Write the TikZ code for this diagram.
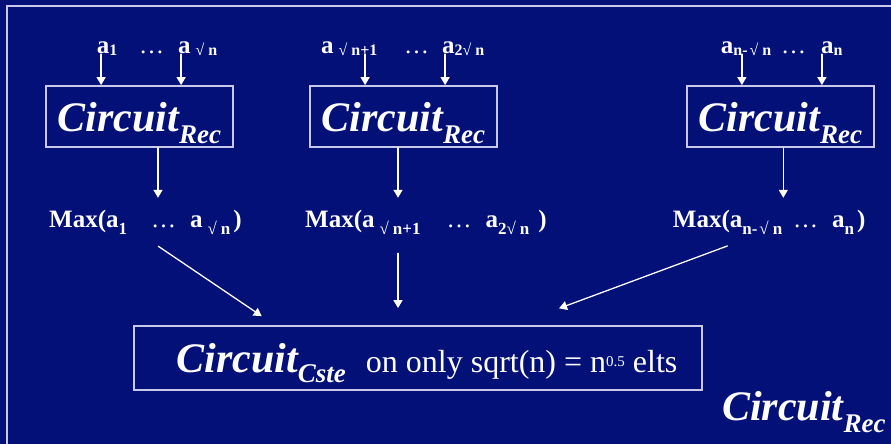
\documentclass[tikz,border=0pt]{standalone}
\usepackage{fontspec}
\setmainfont{Liberation Serif}
\usetikzlibrary{arrows.meta}
\definecolor{slideblue}{RGB}{2,16,119}
\definecolor{framecol}{RGB}{200,200,235}
\newcommand{\circname}[2][12pt]{{\fontsize{42}{42}\selectfont\bfseries\itshape Circuit\raisebox{-#1}{\fontsize{27}{27}\selectfont #2}}}
\newcommand{\insub}[1]{\raisebox{-2pt}{\fontsize{16}{16}\selectfont #1}}
\newcommand{\maxsub}[1]{\raisebox{-7pt}{\fontsize{17}{17}\selectfont #1}}
\newcommand{\rt}{√\hspace{4pt}}
\newcommand{\dts}{{\mdseries …}}

\begin{document}
\begin{tikzpicture}[x=1pt,y=-1pt,line cap=round,
  recbox/.style={draw=framecol,line width=1.8pt,text=white,inner sep=0pt,
    minimum width=187pt,minimum height=61pt,text height=36pt,text depth=6pt},
  inp/.style={text=white,inner sep=0pt,anchor=base west,
    font=\fontsize{25}{25}\selectfont\bfseries},
  maxlab/.style={text=white,inner sep=0pt,anchor=base west,text height=16pt,
    text depth=9pt,font=\fontsize{25}{25}\selectfont\bfseries},
  arr/.style={white,line width=1.3pt,-{Triangle[width=9pt,length=8pt]}}]
  \useasboundingbox (0,0) rectangle (891,444);
  \fill[slideblue] (0,0) rectangle (891,444);
  % outer box, cut by the slide edge
  \draw[framecol,line width=2pt] (6.5,444) -- (6.5,6.5) -- (891,6.5);

  \node[recbox] (rec1) at (139.5,116.5) {\circname{Rec}};
  \node[recbox] (rec2) at (403.5,116.5) {\circname{Rec}};
  \node[recbox] (rec3) at (780.3,116.5) {\circname{Rec}};

  \node[inp] (a11) at (96.7,53.5) {a\insub{1}};
  \node[inp] (d1)  at (139,53.5) {\dts};
  \node[inp] (a12) at (178,53.5) {a\insub{\hspace{5pt}\rt n}};
  \node[inp] (a21) at (321,53.5) {a\insub{\hspace{5pt}\rt n+1}};
  \node[inp] (d2)  at (404,53.5) {\dts};
  \node[inp] (a22) at (442,53.5) {a\insub{2\rt n}};
  \node[inp] (a31) at (720.7,53.5) {a\insub{n-\hspace{2pt}\rt n}};
  \node[inp] (d3)  at (781,53.5) {\dts};
  \node[inp] (a32) at (821,53.5) {a\insub{n}};

  \foreach \b in {rec1,rec2,rec3}
    \foreach \dx in {56,136}
      \draw[arr] ([xshift=\dx pt,yshift=31pt]\b.north west) -- ([xshift=\dx pt]\b.north west);

  \node[maxlab] (max1) at (49,227)
    {Max(a\maxsub{1}\hspace{24pt}\dts\hspace{14pt}a\maxsub{\hspace{5pt}\rt n}\hspace{3pt})};
  \node[maxlab] (max2) at (305,227)
    {Max(a\maxsub{\hspace{5pt}\rt n+1}\hspace{26pt}\dts\hspace{14pt}a\maxsub{2\rt n}\hspace{9pt})};
  \node[maxlab] (max3) at (672.7,227)
    {Max(a\maxsub{n-\hspace{2pt}\rt n}\hspace{11pt}\dts\hspace{14pt}a\maxsub{n}\hspace{3pt})};

  \draw[arr,shorten >=13pt] ([xshift=18.5pt]rec1.south) -- ([xshift=109pt]max1.north west);
  \draw[arr,shorten >=13pt] ([xshift=-5.5pt]rec2.south) -- ([xshift=93pt]max2.north west);
  \draw[arr,shorten >=13pt] ([xshift=3pt]rec3.south) -- ([xshift=110.6pt]max3.north west);

  \node[draw=framecol,line width=1.8pt,text=white,inner sep=0pt,
    minimum width=568pt,minimum height=64pt,text height=36pt,text depth=6.6pt]
    (cste) at (418,358)
    {\hspace*{18pt}\circname[10pt]{Cste}\hspace{20pt}{\fontsize{32}{32}\selectfont on only sqrt(n) = n\raisebox{6.5pt}{\fontsize{15}{15}\selectfont 0.5} elts}};

  \draw[arr,shorten <=18pt,shorten >=16pt] ([xshift=94.4pt]max1.south west) -- ([xshift=-143pt]cste.north);
  \draw[arr,shorten <=17pt,shorten >=17pt] ([xshift=93pt]max2.south west) -- ([xshift=-20pt]cste.north);
  \draw[arr,shorten <=28pt,shorten >=48pt] ([xshift=81pt]max3.south west) -- ([xshift=96pt]cste.north);

  \node[anchor=base west,text=white,inner sep=0pt] (recall) at (722,420) {\circname{Rec}};
\end{tikzpicture}
\end{document}
